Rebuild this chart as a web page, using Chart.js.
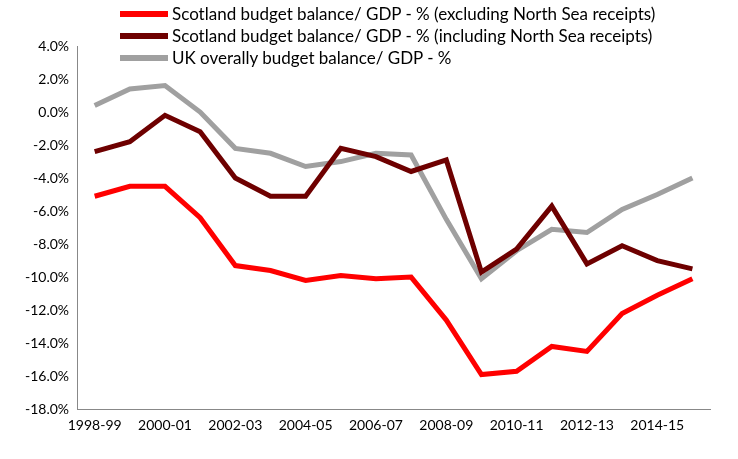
<!DOCTYPE html>
<html><head><meta charset="utf-8">
<script src="https://cdn.jsdelivr.net/npm/chart.js@4"></script>
<style>
body{margin:0;background:#fff;font-family:Lato,"Open Sans",sans-serif}
#wrap{position:relative;width:738px;height:459px}
#leg{position:absolute;left:120px;top:3px;font-size:17px;color:#000;line-height:22px}
#leg div{display:flex;align-items:center}
#leg span.s{display:inline-block;width:48px;height:6px;margin-right:4px}
</style></head><body>
<div id="wrap"><canvas id="c" width="738" height="459"></canvas>
<div id="leg"></div></div>
<script>
const categories=["1998-99","1999-00","2000-01","2001-02","2002-03","2003-04","2004-05","2005-06","2006-07","2007-08","2008-09","2009-10","2010-11","2011-12","2012-13","2013-14","2014-15","2015-16"];
const scotExcl=[-5.1,-4.5,-4.5,-6.4,-9.3,-9.6,-10.2,-9.9,-10.1,-10.0,-12.6,-15.9,-15.7,-14.2,-14.5,-12.2,-11.1,-10.1];
const scotIncl=[-2.4,-1.8,-0.2,-1.2,-4.0,-5.1,-5.1,-2.2,-2.7,-3.6,-2.9,-9.7,-8.3,-5.7,-9.2,-8.1,-9.0,-9.5];
const ukBal=[0.4,1.4,1.6,0.0,-2.2,-2.5,-3.3,-3.0,-2.5,-2.6,-6.5,-10.1,-8.4,-7.1,-7.3,-5.9,-5.0,-4.0];
const names=["Scotland budget balance/ GDP - % (excluding North Sea receipts)","Scotland budget balance/ GDP - % (including North Sea receipts)","UK overally budget balance/ GDP - %"];
const colors=["#ff0000","#6e0000","#a0a0a0"];
const series=[scotExcl,scotIncl,ukBal];
document.getElementById('leg').innerHTML=names.map((n,i)=>`<div><span class="s" style="background:${colors[i]}"></span>${n}</div>`).join('');
new Chart(document.getElementById('c'),{type:'line',
data:{labels:categories,datasets:series.map((d,i)=>({label:names[i],data:d,borderColor:colors[i],borderWidth:5,pointRadius:0,tension:0,fill:false}))},
options:{responsive:false,animation:false,
layout:{padding:{left:22,right:28,top:46,bottom:17}},
plugins:{legend:{display:false},tooltip:{enabled:false}},
scales:{
x:{offset:true,grid:{display:false,drawTicks:false},border:{color:'#888'},
ticks:{autoSkip:false,maxRotation:0,color:'#000',font:{size:14,family:'Lato'},padding:8,callback:(v,i)=>i%2===0?categories[i]:''}},
y:{min:-18,max:4,grid:{display:false,drawTicks:true,tickLength:5,color:'#888'},border:{color:'#888'},
ticks:{stepSize:2,color:'#000',font:{size:14,family:'Lato'},callback:v=>v.toFixed(1)+'%'}}
}}});
</script></body></html>
